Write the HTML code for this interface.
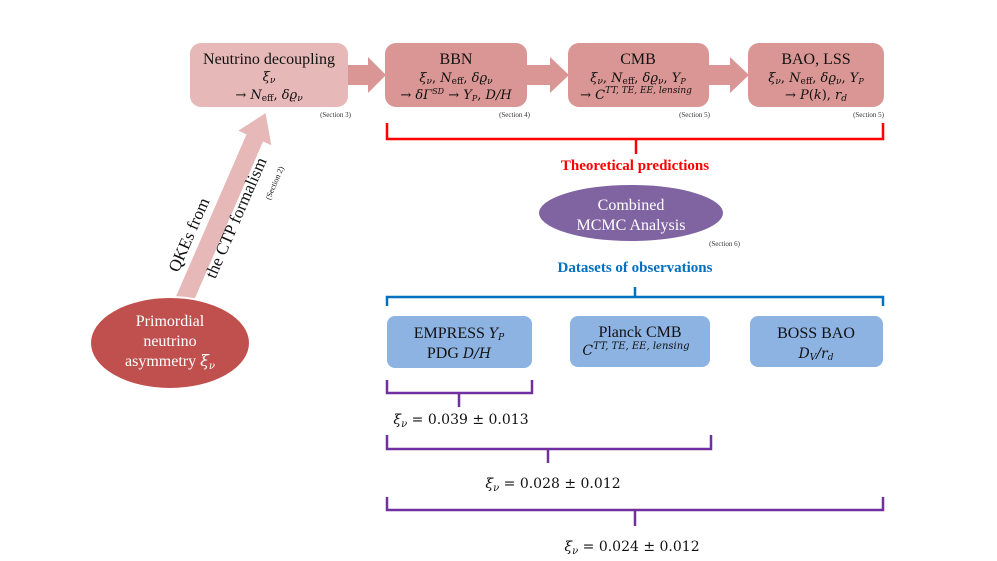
<!DOCTYPE html>
<html><head><meta charset="utf-8"><style>
html,body{margin:0;padding:0;background:#fff;}
svg{display:block;}
text{font-family:"Liberation Serif","DejaVu Serif",serif;}
.m{font-family:"DejaVu Serif","Liberation Serif",serif;font-style:italic;}
.d{font-family:"DejaVu Serif","Liberation Serif",serif;}
</style></head><body>
<svg width="997" height="561" viewBox="0 0 997 561" xmlns="http://www.w3.org/2000/svg">
<g fill="#d99694">
<polygon points="346,65 368,65 368,57 386,75 368,93 368,85 346,85"/>
<polygon points="525,65 550,65 550,57 569,75 550,93 550,85 525,85"/>
<polygon points="707,65 730,65 730,57 749,75 730,93 730,85 707,85"/>
</g>
<rect x="190" y="43" width="158" height="64" rx="11" fill="#e6b8b7"/>
<rect x="385" y="43" width="142" height="64" rx="11" fill="#d99694"/>
<rect x="568" y="43" width="141" height="64" rx="11" fill="#d99694"/>
<rect x="748" y="43" width="136" height="64" rx="11" fill="#d99694"/>
<g font-size="16" text-anchor="middle" fill="#111">
<text x="269" y="64">Neutrino decoupling</text>
<text x="269" y="81" class="m" font-size="13">ξ<tspan font-size="9" dy="2">ν</tspan></text>
<text x="269" y="99" font-size="13" class="d">→ <tspan class="m">N</tspan><tspan font-size="9" dy="2">eff</tspan><tspan dy="-2">, </tspan><tspan class="m">δϱ</tspan><tspan class="m" font-size="9" dy="2">ν</tspan></text>
<text x="456" y="64">BBN</text>
<text x="456" y="82" font-size="13" class="d"><tspan class="m">ξ</tspan><tspan class="m" font-size="9" dy="2">ν</tspan><tspan dy="-2">, </tspan><tspan class="m">N</tspan><tspan font-size="9" dy="2">eff</tspan><tspan dy="-2">, </tspan><tspan class="m">δϱ</tspan><tspan class="m" font-size="9" dy="2">ν</tspan></text>
<text x="456" y="99" font-size="13" class="d">→ <tspan class="m">δΓ</tspan><tspan class="m" font-size="8" dy="-5">SD</tspan><tspan dy="5"> → </tspan><tspan class="m">Y</tspan><tspan class="m" font-size="8" dy="2">P</tspan><tspan dy="-2">, </tspan><tspan class="m">D/H</tspan></text>
<text x="638" y="64">CMB</text>
<text x="638" y="82" font-size="13" class="d"><tspan class="m">ξ</tspan><tspan class="m" font-size="9" dy="2">ν</tspan><tspan dy="-2">, </tspan><tspan class="m">N</tspan><tspan font-size="9" dy="2">eff</tspan><tspan dy="-2">, </tspan><tspan class="m">δϱ</tspan><tspan class="m" font-size="9" dy="2">ν</tspan><tspan dy="-2">, </tspan><tspan class="m">Y</tspan><tspan class="m" font-size="8" dy="2">P</tspan></text>
<text x="636" y="99" font-size="13" class="d">→ <tspan class="m">C</tspan><tspan class="m" font-size="9" dy="-6">TT, TE, EE, lensing</tspan></text>
<text x="816" y="64">BAO, LSS</text>
<text x="816" y="82" font-size="13" class="d"><tspan class="m">ξ</tspan><tspan class="m" font-size="9" dy="2">ν</tspan><tspan dy="-2">, </tspan><tspan class="m">N</tspan><tspan font-size="9" dy="2">eff</tspan><tspan dy="-2">, </tspan><tspan class="m">δϱ</tspan><tspan class="m" font-size="9" dy="2">ν</tspan><tspan dy="-2">, </tspan><tspan class="m">Y</tspan><tspan class="m" font-size="8" dy="2">P</tspan></text>
<text x="816" y="99" font-size="13" class="d">→ <tspan class="m">P</tspan>(<tspan class="m">k</tspan>), <tspan class="m">r</tspan><tspan class="m" font-size="9" dy="2">d</tspan></text>
</g>
<g font-size="7" fill="#333" text-anchor="end">
<text x="351" y="117">(Section 3)</text>
<text x="530" y="117">(Section 4)</text>
<text x="710" y="117">(Section 5)</text>
<text x="884" y="117">(Section 5)</text>
<text x="740" y="246">(Section 6)</text>
</g>
<path d="M387,123 V139 H883 V123 M636,139 V154" stroke="#ff0000" stroke-width="2.5" fill="none"/>
<text x="635" y="170" font-size="15" font-weight="bold" fill="#ff0000" text-anchor="middle">Theoretical predictions</text>
<ellipse cx="631" cy="213" rx="93" ry="29" fill="#8064a2" stroke="#fff" stroke-width="2"/>
<text x="631" y="210" font-size="16" fill="#fff" text-anchor="middle">Combined</text>
<text x="631" y="230" font-size="16" fill="#fff" text-anchor="middle">MCMC Analysis</text>
<text x="635" y="272" font-size="15" font-weight="bold" fill="#0070c0" text-anchor="middle">Datasets of observations</text>
<path d="M387,306 V297 H883 V306 M635,297 V287" stroke="#0070c0" stroke-width="2.5" fill="none"/>
<rect x="387" y="316" width="145" height="52" rx="8" fill="#8db3e2"/>
<rect x="570" y="316" width="140" height="51" rx="8" fill="#8db3e2"/>
<rect x="750" y="316" width="133" height="51" rx="8" fill="#8db3e2"/>
<g font-size="16" text-anchor="middle" fill="#111">
<text x="459" y="338">EMPRESS <tspan class="m" font-size="14">Y</tspan><tspan class="m" font-size="9" dy="2">P</tspan></text>
<text x="459" y="358">PDG <tspan class="m" font-size="14">D/H</tspan></text>
<text x="640" y="337">Planck CMB</text>
<text x="636" y="355" font-size="14"><tspan class="m">C</tspan><tspan class="m" font-size="10" dy="-6">TT, TE, EE, lensing</tspan></text>
<text x="816" y="338">BOSS BAO</text>
<text x="816" y="358" font-size="14"><tspan class="m">D</tspan><tspan class="m" font-size="9" dy="2">V</tspan><tspan dy="-2" class="m">/r</tspan><tspan class="m" font-size="9" dy="2">d</tspan></text>
</g>
<g stroke="#7030a0" stroke-width="2.5" fill="none">
<path d="M387,380 V393 H532 V380 M459,393 V407"/>
<path d="M387,435 V449 H711 V435 M548,449 V463"/>
<path d="M387,497 V510 H883 V497 M635,510 V526"/>
</g>
<g font-size="14" fill="#111" text-anchor="middle" class="d">
<text x="461" y="424" class="d"><tspan class="m">ξ</tspan><tspan class="m" font-size="10" dy="3">ν</tspan><tspan dy="-3"> = 0.039 ± 0.013</tspan></text>
<text x="553" y="488" class="d"><tspan class="m">ξ</tspan><tspan class="m" font-size="10" dy="3">ν</tspan><tspan dy="-3"> = 0.028 ± 0.012</tspan></text>
<text x="632" y="551" class="d"><tspan class="m">ξ</tspan><tspan class="m" font-size="10" dy="3">ν</tspan><tspan dy="-3"> = 0.024 ± 0.012</tspan></text>
</g>
<g transform="translate(183,303) rotate(-66.5)">
<polygon points="0,-9 180,-9 180,-18 207,0 180,18 180,9 0,9" fill="#e6b8b7"/>
</g>
<g font-size="17" fill="#111" text-anchor="middle">
<text transform="translate(194,237) rotate(-66.5)">QKEs from</text>
<text transform="translate(241,220) rotate(-66.5)">the CTP formalism</text>
<text font-size="8" transform="translate(277,184) rotate(-66.5)">(Section 2)</text>
</g>
<ellipse cx="170" cy="343" rx="80" ry="46" fill="#c0504d" stroke="#fff" stroke-width="2"/>
<g font-size="16" fill="#fff" text-anchor="middle">
<text x="170" y="326">Primordial</text>
<text x="170" y="346">neutrino</text>
<text x="170" y="366">asymmetry <tspan class="m">ξ</tspan><tspan class="m" font-size="10" dy="3">ν</tspan></text>
</g>
</svg>
</body></html>
